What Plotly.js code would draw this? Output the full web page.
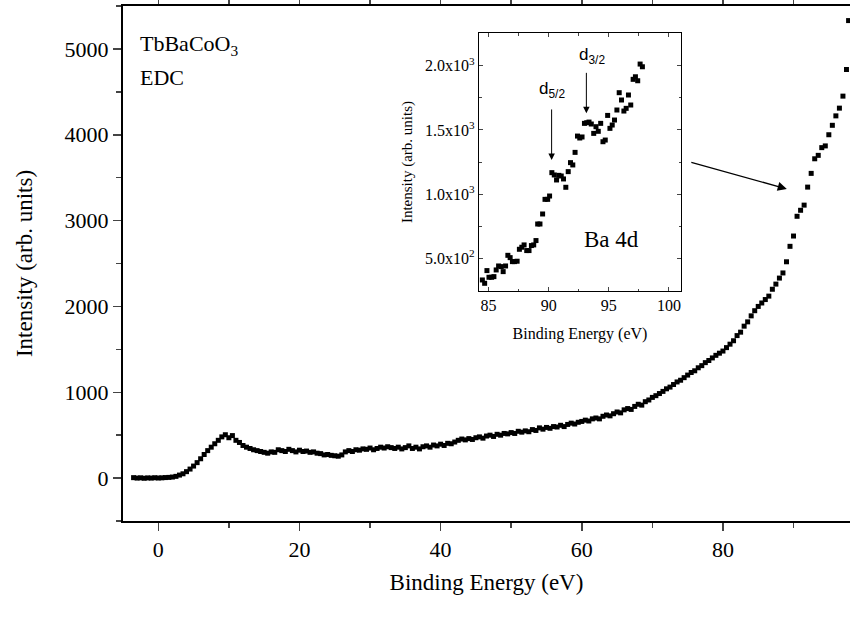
<!DOCTYPE html>
<html>
<head>
<meta charset="utf-8">
<script src="https://cdn.plot.ly/plotly-3.0.1.min.js"></script>
<style>html,body{margin:0;padding:0;background:#fff;}#chart{width:850px;height:619px;}</style>
</head>
<body>
<div id="chart"></div>
<script>
// Main EDC spectrum (binding energy in eV, intensity in arb. units)
const mainEnergy = [-3.5,-3.0,-2.5,-2.0,-1.5,-1.0,-0.5,0.0,0.5,1.0,1.5,2.0,2.5,3.0,3.5,4.0,4.5,5.0,5.5,6.0,6.5,7.0,7.5,8.0,8.5,9.0,9.5,10.0,10.5,11.0,11.5,12.0,12.5,13.0,13.5,14.0,14.5,15.0,15.5,16.0,16.5,17.0,17.5,18.0,18.5,19.0,19.5,20.0,20.5,21.0,21.5,22.0,22.5,23.0,23.5,24.0,24.5,25.0,25.5,26.0,26.5,27.0,27.5,28.0,28.5,29.0,29.5,30.0,30.5,31.0,31.5,32.0,32.5,33.0,33.5,34.0,34.5,35.0,35.5,36.0,36.5,37.0,37.5,38.0,38.5,39.0,39.5,40.0,40.5,41.0,41.5,42.0,42.5,43.0,43.5,44.0,44.5,45.0,45.5,46.0,46.5,47.0,47.5,48.0,48.5,49.0,49.5,50.0,50.5,51.0,51.5,52.0,52.5,53.0,53.5,54.0,54.5,55.0,55.5,56.0,56.5,57.0,57.5,58.0,58.5,59.0,59.5,60.0,60.5,61.0,61.5,62.0,62.5,63.0,63.5,64.0,64.5,65.0,65.5,66.0,66.5,67.0,67.5,68.0,68.5,69.0,69.5,70.0,70.5,71.0,71.5,72.0,72.5,73.0,73.5,74.0,74.5,75.0,75.5,76.0,76.5,77.0,77.5,78.0,78.5,79.0,79.5,80.0,80.5,81.0,81.5,82.0,82.5,83.0,83.5,84.0,84.5,85.0,85.5,86.0,86.5,87.0,87.5,88.0,88.5,89.0,89.5,90.0,90.5,91.0,91.5,92.0,92.5,93.0,93.5,94.0,94.5,95.0,95.5,96.0,96.5,97.0,97.5,97.8];
const mainIntensity = [5,0,3,-2,2,0,4,1,3,6,8,12,20,35,50,75,105,140,180,225,275,320,360,400,440,480,505,470,495,440,415,380,360,345,330,320,310,300,290,305,300,330,320,310,335,320,305,325,310,315,300,305,290,285,270,275,265,260,255,270,305,320,310,330,325,340,335,350,330,345,360,350,365,355,345,360,340,355,375,345,360,340,365,375,360,385,375,395,380,405,400,420,440,455,445,460,450,470,480,465,490,500,485,510,500,520,515,530,520,545,535,550,540,565,555,585,570,590,580,600,595,615,600,625,640,630,650,660,675,665,690,700,690,720,735,725,750,770,760,795,810,800,835,860,850,890,910,940,960,985,1010,1040,1060,1090,1120,1140,1170,1200,1230,1250,1285,1310,1345,1370,1400,1430,1455,1480,1520,1560,1600,1660,1700,1770,1820,1890,1950,2000,2040,2080,2120,2200,2260,2330,2390,2520,2700,2820,3050,3120,3180,3390,3550,3720,3760,3850,3870,4000,4110,4220,4310,4450,4760,5330];

// Inset: Ba 4d region
const insetEnergy = [84.48,84.67,84.86,85.03,85.25,85.44,85.63,85.83,86.05,86.21,86.41,86.60,86.79,86.98,87.15,87.37,87.56,87.76,87.95,88.17,88.36,88.56,88.75,88.94,89.08,89.27,89.49,89.69,89.91,90.07,90.26,90.46,90.65,90.84,91.04,91.23,91.42,91.62,91.81,92.00,92.19,92.39,92.58,92.77,92.97,93.16,93.35,93.54,93.74,93.93,94.12,94.32,94.51,94.70,94.90,95.09,95.28,95.47,95.67,95.86,96.05,96.25,96.44,96.63,96.82,97.02,97.21,97.40,97.60,97.79];
const insetIntensity = [331,305,404,352,352,357,409,440,435,396,440,523,505,474,474,477,570,586,604,560,560,599,604,638,767,767,845,959,959,985,1167,1149,1110,1146,1141,1118,1053,1175,1245,1227,1325,1452,1437,1445,1551,1556,1561,1546,1473,1525,1489,1551,1408,1421,1613,1512,1538,1577,1655,1790,1733,1647,1668,1772,1694,1894,1914,1883,2013,1992];

const mainXTicks = [0,20,40,60,80];
const mainYTicks = [0,1000,2000,3000,4000,5000];
const insetXTicks = [85,90,95,100];
const insetYTicks = [500,1000,1500,2000];
const insetYTickText = ['5.0x10<sup>2</sup>','1.0x10<sup>3</sup>','1.5x10<sup>3</sup>','2.0x10<sup>3</sup>'];

const serif = "'Liberation Serif', 'Times New Roman', Times, serif";
const sans = "'Liberation Sans', Arial, Helvetica, sans-serif";

const traces = [
  {x: mainEnergy, y: mainIntensity, type:'scatter', mode:'markers',
   marker:{symbol:'square', size:5, color:'#000', line:{width:0}}, xaxis:'x', yaxis:'y', hoverinfo:'skip'},
  {x: insetEnergy, y: insetIntensity, type:'scatter', mode:'markers',
   marker:{symbol:'square', size:5, color:'#000', line:{width:0}}, xaxis:'x2', yaxis:'y2', hoverinfo:'skip'}
];

const L = 123, R = 850, T = 6, B = 521;
const W = R - L, H = B - T;
const insetDom = {x:[(479-L)/W, (681-L)/W], y:[(B-291)/H, (B-33)/H]};

const layout = {
  width:850, height:619,
  margin:{l:L, r:850-R, t:T, b:619-B, pad:0},
  paper_bgcolor:'#fff', plot_bgcolor:'rgba(0,0,0,0)',
  showlegend:false,
  font:{family:serif, color:'#000'},
  xaxis:{domain:[0,1], range:[-5,98], tickvals:mainXTicks, ticks:'outside', ticklen:8, tickwidth:1.5,
    minor:{dtick:10, tick0:0, ticks:'outside', ticklen:5, tickwidth:1.5, showgrid:false},
    showline:true, linewidth:2, linecolor:'#000', mirror:'ticks', showgrid:false, zeroline:false,
    tickfont:{size:22, family:serif},
    title:{text:'Binding Energy (eV)', font:{size:23, family:serif}, standoff:12}},
  yaxis:{domain:[0,1], range:[-500,5500], tickvals:mainYTicks, ticks:'outside', ticklen:8, tickwidth:1.5,
    minor:{dtick:500, tick0:0, ticks:'outside', ticklen:5, tickwidth:1.5, showgrid:false},
    showline:true, linewidth:2, linecolor:'#000', mirror:false, showgrid:false, zeroline:false,
    tickfont:{size:22, family:serif},
    title:{text:'Intensity (arb. units)', font:{size:23, family:serif}, standoff:26}},
  xaxis2:{domain:insetDom.x, anchor:'y2', range:[84.2,101], tickvals:insetXTicks, ticks:'inside', ticklen:4, tickwidth:1,
    minor:{dtick:2.5, tick0:85, ticks:'inside', ticklen:2.5, tickwidth:1, showgrid:false},
    showline:true, linewidth:1.2, linecolor:'#000', mirror:'ticks', showgrid:false, zeroline:false,
    tickfont:{size:16, family:serif},
    title:{text:'Binding Energy (eV)', font:{size:16, family:serif}, standoff:14}},
  yaxis2:{domain:insetDom.y, anchor:'x2', range:[245,2255], tickvals:insetYTicks, ticktext:insetYTickText, ticks:'inside', ticklen:4, tickwidth:1,
    minor:{dtick:250, tick0:0, ticks:'inside', ticklen:2.5, tickwidth:1, showgrid:false},
    showline:true, linewidth:1.2, linecolor:'#000', mirror:'ticks', showgrid:false, zeroline:false,
    tickfont:{size:16, family:serif},
    title:{text:'Intensity (arb. units)', font:{size:15, family:serif}, standoff:8}},
  shapes:[
    {type:'rect', xref:'paper', yref:'paper', x0:insetDom.x[0], x1:insetDom.x[1], y0:insetDom.y[0], y1:insetDom.y[1],
     fillcolor:'#fff', line:{width:0}, layer:'below'}
  ],
  annotations:[
    {xref:'paper', yref:'paper', x:(138-L)/W, y:(B-45)/H, xanchor:'left', yanchor:'middle', showarrow:false,
     text:'TbBaCoO<sub>3</sub>', font:{size:22, family:serif}},
    {xref:'paper', yref:'paper', x:(138-L)/W, y:(B-77)/H, xanchor:'left', yanchor:'middle', showarrow:false,
     text:'EDC', font:{size:22, family:serif}},
    {xref:'x2', yref:'y2', x:95.2, y:650, xanchor:'center', yanchor:'middle', showarrow:false,
     text:'Ba 4d', font:{size:23, family:serif}},
    {xref:'x2', yref:'y2', x:90.24, y:1266, ax:0, ay:-52, showarrow:true, arrowhead:2, arrowsize:1.3, arrowwidth:1, arrowcolor:'#000', standoff:0, startstandoff:0, text:''},
    {xref:'x2', yref:'y2', x:93.13, y:1629, ax:0, ay:-42, showarrow:true, arrowhead:2, arrowsize:1.3, arrowwidth:1, arrowcolor:'#000', standoff:0, startstandoff:0, text:''},
    {xref:'paper', yref:'paper', x:(552-L)/W, y:(B-90)/H, xanchor:'center', yanchor:'middle', showarrow:false,
     text:'d<sub>5/2</sub>', font:{size:17, family:sans}},
    {xref:'paper', yref:'paper', x:(592-L)/W, y:(B-56)/H, xanchor:'center', yanchor:'middle', showarrow:false,
     text:'d<sub>3/2</sub>', font:{size:17, family:sans}},
    {xref:'x', yref:'y', x:89.05, y:3369, ax:-97, ay:-27, showarrow:true, arrowhead:2, arrowsize:1.4, arrowwidth:1.3, arrowcolor:'#000', standoff:0, startstandoff:0, text:''}
  ]
};

Plotly.newPlot('chart', traces, layout, {displayModeBar:false, staticPlot:true});
</script>
</body>
</html>
